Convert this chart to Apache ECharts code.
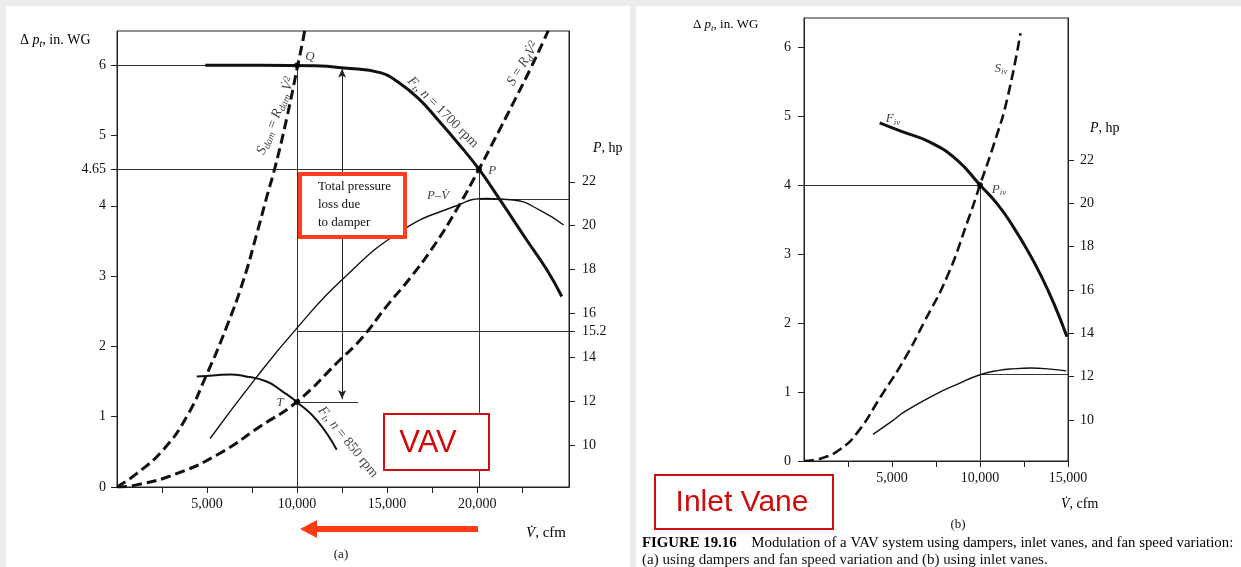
<!DOCTYPE html>
<html><head><meta charset="utf-8">
<script src="https://cdn.jsdelivr.net/npm/echarts@6/dist/echarts.min.js"></script>
<style>
html,body{margin:0;padding:0;background:#ececec;}
#wrap{position:relative;width:1241px;height:567px;background:#ececec;overflow:hidden;}
.pnl{position:absolute;background:#fff;}
#chart{position:absolute;left:0;top:0;width:1241px;height:567px;}
</style></head><body>
<div id="wrap">
<div class="pnl" style="left:6px;top:6px;width:624px;height:561px"></div>
<div class="pnl" style="left:636px;top:6px;width:605px;height:561px"></div>
<div id="chart"></div>
</div>
<script>
// ---------- Panel (a): dampers + fan speed ----------
// [cfm, in. WG]
const fan1700 = [[4900,6.0],[8000,6.0],[11000,5.99],[12600,5.96],[14670,5.89],[15600,5.76],[16720,5.53],[17830,5.22],[18940,4.89],[20100,4.52],[21280,4.08],[22760,3.51],[23870,3.09],[24700,2.71]];
const fan850 = [[4430,1.57],[5500,1.59],[6300,1.6],[7020,1.58],[8310,1.5],[9240,1.35],[9980,1.21],[11090,0.95],[12200,0.53]];
const sysDamper = [[0,0],[1090,0.19],[2570,0.53],[3870,1.0],[4980,1.6],[6090,2.28],[7020,2.94],[7760,3.6],[8320,4.13],[8780,4.55],[9430,5.25],[10040,6.0],[10330,6.36],[10420,6.49]];
const sysDuct = [[0,0],[1090,0.03],[3310,0.19],[5720,0.48],[7940,0.86],[9980,1.21],[12390,1.81],[13500,2.09],[15000,2.58],[16300,2.98],[17570,3.42],[18870,3.95],[20100,4.52],[21000,4.96],[22000,5.46],[23000,5.97],[23680,6.34],[23950,6.49]];
// [cfm, hp]
const power1700 = [[5170,10.3],[7760,13.11],[9980,15.32],[12480,17.52],[15720,19.72],[18690,20.86],[20540,21.24],[22020,21.17],[23500,20.7],[24800,20.03]];
const pointsA = [[10000,6.0],[20100,4.52],[9990,1.21]];
const guideA = [[[0,6],[10000,6]],[[0,4.52],[20100,4.52]],[[10000,6],[10000,0]],[[20100,4.52],[20100,0]],[[10000,1.21],[13400,1.21]]];
const guideAhp = [[[10000,15.2],[25100,15.2]],[[20100,21.22],[25100,21.22]]];
const lossArrow = [[12500,5.95],[12500,1.25]];
const xTicksA = [2500,5000,7500,10000,12500,15000,17500,20000,22500];
const xLabelsA = [5000,10000,15000,20000];
const dpTicksA = [0,1,2,3,4,4.52,5,6];
const hpTicksA = [10,12,14,15.2,16,18,20,22];

// ---------- Panel (b): inlet vanes ----------
const fanIv = [[4300,4.9],[5500,4.78],[7160,4.62],[8700,4.36],[10000,4.0],[11000,3.72],[11900,3.39],[12700,3.05],[13400,2.72],[14200,2.28],[14940,1.8]];
const sysIv = [[0,0],[1000,0.04],[2000,0.16],[3000,0.4],[4400,0.95],[5740,1.49],[6800,2.0],[8130,2.67],[9320,3.49],[10000,4.0],[10800,4.6],[11530,5.23],[12300,6.2]];
const powerIv = [[3920,9.34],[5000,9.95],[5740,10.4],[7500,11.2],[8700,11.65],[10000,12.09],[11000,12.28],[12000,12.37],[12900,12.4],[14000,12.35],[14900,12.27]];
const pointsB = [[10000,4.0]];
const guideB = [[[0,4],[10000,4]],[[10000,4],[10000,0]]];
const guideBhp = [[[10000,12.09],[15000,12.09]]];
const xTicksB = [2500,5000,7500,10000,12500,15000];
const xLabelsB = [5000,10000,15000];
const dpTicksB = [0,1,2,3,4,5,6];
const hpTicksB = [10,12,14,16,18,20,22];

const serif = 'Liberation Serif';
const ink = '#111';
function mkRich(fs){
  return {
    r:{fontFamily:serif,fontSize:fs,color:ink,lineHeight:fs+3},
    i:{fontFamily:serif,fontSize:fs,fontStyle:'italic',color:ink,lineHeight:fs+3},
    sub:{fontFamily:serif,fontSize:Math.round(fs*0.68),fontStyle:'italic',color:ink,lineHeight:Math.round(fs*0.68),verticalAlign:'bottom'},
    sup:{fontFamily:serif,fontSize:Math.round(fs*0.68),color:ink,lineHeight:Math.round(fs*0.68),verticalAlign:'top'},
    b:{fontFamily:serif,fontSize:fs,fontWeight:'bold',color:ink,lineHeight:fs+3}
  };
}
const rich14 = mkRich(14), rich15 = mkRich(15);
const VD = 'V\u0307';
// annotation texts anchored in data space
const notesA = [
  {at:[8830,5.28], rot:68, fs:14, t:'{i|S}{sub|dam}{r| = }{i|R}{sub|dam}{r| }{i|'+VD+'}{sup|2}'},
  {at:[22550,6.02], rot:58, fs:14, t:'{i|S}{r| = }{i|R}{sub|d}{i|'+VD+'}{sup|2}'},
  {at:[18100,5.33], rot:-45, fs:14, t:'{i|F}{sub|t}{r|, }{i|n}{r| = 1700 rpm}'},
  {at:[12830,0.64], rot:-51, fs:14, t:'{i|F}{sub|t}{r|, }{i|n}{r| = 850 rpm}'},
  {at:[10720,6.12], rot:0, fs:13, t:'{i|Q}'},
  {at:[20830,4.5], rot:0, fs:13, t:'{i|P}'},
  {at:[9060,1.2], rot:0, fs:13, t:'{i|T}'},
  {at:[17830,4.15], rot:0, fs:13, t:'{i|P}{r|\u2013}{i|'+VD+'}'}
];
const notesB = [
  {at:[11200,5.69], rot:0, fs:13, t:'{i|S}{sub|iv}'},
  {at:[5060,4.96], rot:0, fs:13, t:'{i|F}{sub|iv}'},
  {at:[11080,3.94], rot:0, fs:13, t:'{i|P}{sub|iv}'}
];

const fmt = v => v.toLocaleString('en-US');
function xAx(grid,max,ticks,labels){
  return {gridIndex:grid,type:'value',min:0,max:max,
    axisLine:{show:true,lineStyle:{color:'#222',width:1}},
    axisTick:{show:true,inside:false,length:6,customValues:ticks,lineStyle:{color:'#222'}},
    axisLabel:{customValues:labels,formatter:fmt,margin:10,fontFamily:serif,fontSize:14,color:ink},
    splitLine:{show:false}};
}
function yAx(grid,pos,min,max,ticks,margin,f){
  return {gridIndex:grid,type:'value',position:pos,min:min,max:max,
    axisLine:{show:true,onZero:false,lineStyle:{color:'#222',width:1}},
    axisTick:{show:true,inside:false,length:6,customValues:ticks,lineStyle:{color:'#222'}},
    axisLabel:{customValues:ticks,margin:margin,fontFamily:serif,fontSize:14,color:ink,formatter:f||(v=>String(v))},
    splitLine:{show:false}};
}
function curve(data,xi,yi,w,dash){
  return {type:'line',xAxisIndex:xi,yAxisIndex:yi,data:data,smooth:0.5,showSymbol:false,symbol:'none',silent:true,
    lineStyle:{color:'#111',width:w,type:dash?[10,5]:'solid',cap:'butt'},z:3};
}
function guides(data,xi,yi){
  return {type:'lines',coordinateSystem:'cartesian2d',xAxisIndex:xi,yAxisIndex:yi,polyline:false,silent:true,
    data:data.map(c=>({coords:c})),lineStyle:{color:'#333',width:1,opacity:1},z:2};
}
function dots(data,xi,yi){
  return {type:'scatter',xAxisIndex:xi,yAxisIndex:yi,data:data,symbolSize:6,itemStyle:{color:'#000'},silent:true,z:4};
}
function notes(list,xi,yi){
  return {type:'scatter',xAxisIndex:xi,yAxisIndex:yi,symbolSize:0,silent:true,z:5,
    data:list.map(n=>({value:n.at,label:{show:true,position:'inside',rotate:n.rot,formatter:n.t,rich:mkRich(n.fs)}}))};
}

const chart = echarts.init(document.getElementById('chart'));
chart.setOption({
  animation:false,
  backgroundColor:'transparent',
  grid:[
    {left:117,top:31,width:452,height:456,show:true,borderColor:'#222',borderWidth:1},
    {left:804,top:18,width:264,height:443,show:true,borderColor:'#222',borderWidth:1}
  ],
  xAxis:[xAx(0,25100,xTicksA,xLabelsA), xAx(1,15000,xTicksB,xLabelsB)],
  yAxis:[
    yAx(0,'left',0,6.486,dpTicksA,11,v=>(v===4.52?'4.65':String(v))),
    yAx(0,'right',8.09,28.87,hpTicksA,13),
    yAx(1,'left',0,6.42,dpTicksB,13),
    yAx(1,'right',8.11,28.55,hpTicksB,12)
  ],
  series:[
    guides(guideA,0,0),
    guides(guideAhp,0,1),
    {type:'line',xAxisIndex:0,yAxisIndex:0,data:[],silent:true,
      markLine:{silent:true,symbol:['arrow','arrow'],symbolSize:[6,9],label:{show:false},
        lineStyle:{color:'#222',width:1,type:'solid'},data:[[{coord:lossArrow[0]},{coord:lossArrow[1]}]]}},
    curve(sysDamper,0,0,3,true),
    curve(sysDuct,0,0,3,true),
    curve(fan1700,0,0,3,false),
    curve(fan850,0,0,2,false),
    curve(power1700,0,1,1.4,false),
    dots(pointsA,0,0),
    notes(notesA,0,0),
    guides(guideB,1,2),
    guides(guideBhp,1,3),
    curve(sysIv,1,2,2.6,true),
    curve(fanIv,1,2,3,false),
    curve(powerIv,1,3,1.4,false),
    dots(pointsB,1,2),
    notes(notesB,1,2)
  ],
  graphic:[
    // axis titles
    {type:'text',x:20,y:32,z:50,style:{text:'{r|\u0394 }{i|p}{sub|t}{r|, in. WG}',rich:mkRich(14)}},
    {type:'text',x:693,y:17,z:50,style:{text:'{r|\u0394 }{i|p}{sub|t}{r|, in. WG}',rich:mkRich(13)}},
    {type:'text',x:593,y:140,z:50,style:{text:'{i|P}{r|, hp}',rich:rich14}},
    {type:'text',x:1090,y:120,z:50,style:{text:'{i|P}{r|, hp}',rich:rich14}},
    {type:'text',x:526,y:524,z:50,style:{text:'{i|'+VD+'}{r|, cfm}',rich:rich15}},
    {type:'text',x:1061,y:496,z:50,style:{text:'{i|'+VD+'}{r|, cfm}',rich:rich14}},
    {type:'text',x:341,y:555,z:50,style:{text:'(a)',font:'13px "Liberation Serif"',fill:ink,align:'center',verticalAlign:'middle'}},
    {type:'text',x:958,y:525,z:50,style:{text:'(b)',font:'13px "Liberation Serif"',fill:ink,align:'center',verticalAlign:'middle'}},
    // caption
    {type:'text',x:642,y:535,z:50,style:{text:'{b|FIGURE 19.16}{r|    Modulation of a VAV system using dampers, inlet vanes, and fan speed variation:}',rich:{b:{fontFamily:serif,fontSize:14.8,fontWeight:'bold',color:ink,lineHeight:17},r:{fontFamily:serif,fontSize:14.8,color:ink,lineHeight:17}}}},
    {type:'text',x:642,y:553,z:50,style:{text:'(a) using dampers and fan speed variation and (b) using inlet vanes.',font:'15px "Liberation Serif"',fill:ink}},
    // damper loss box
    {type:'rect',z:60,shape:{x:300,y:174,width:105,height:63},style:{fill:'#fff',stroke:'#ff3d1f',lineWidth:4}},
    {type:'text',x:318,y:178,z:61,style:{text:'Total pressure\nloss due\nto damper',font:'13px "Liberation Serif"',fill:ink,lineHeight:18,verticalAlign:'top'}},
    // VAV box
    {type:'rect',z:60,shape:{x:384,y:414,width:105,height:56},style:{fill:'#fff',stroke:'#d01010',lineWidth:2}},
    {type:'text',x:428,y:443,z:61,style:{text:'VAV',font:'31px "Liberation Sans"',fill:'#cf0a0a',align:'center',verticalAlign:'middle'}},
    // Inlet Vane box
    {type:'rect',z:60,shape:{x:655,y:475,width:178,height:54},style:{fill:'#fff',stroke:'#d01010',lineWidth:2}},
    {type:'text',x:742,y:503,z:61,style:{text:'Inlet Vane',font:'30px "Liberation Sans"',fill:'#cf0a0a',align:'center',verticalAlign:'middle'}},
    // red arrow (toward lower flow)
    {type:'polygon',z:60,shape:{points:[[478,526],[317,526],[317,520],[300,529],[317,538],[317,532],[478,532]]},style:{fill:'#ff3b14'}}
  ]
});
</script>
</body></html>
